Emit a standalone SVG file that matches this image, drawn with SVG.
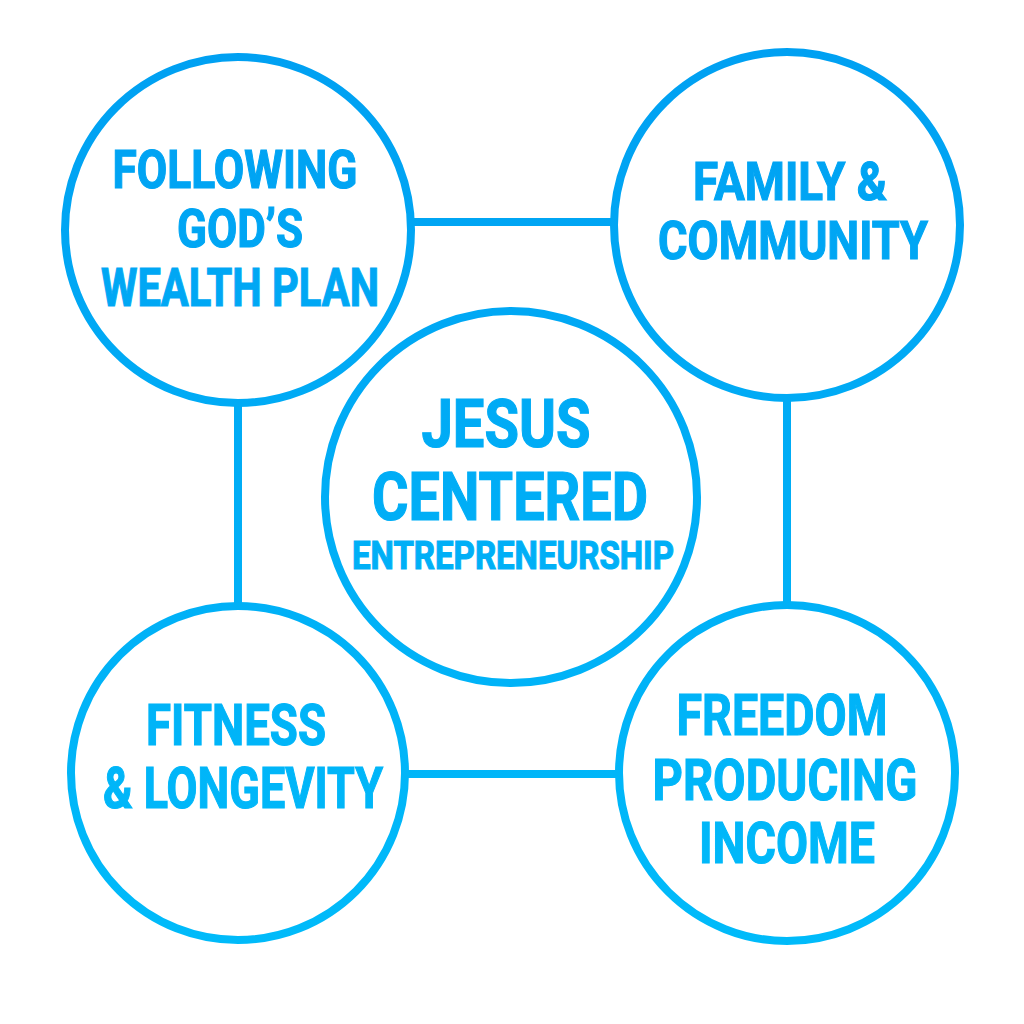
<svg xmlns="http://www.w3.org/2000/svg" width="1024" height="1024" viewBox="0 0 1024 1024">
<defs>
<linearGradient id="g" gradientUnits="userSpaceOnUse" x1="0" y1="40" x2="0" y2="960">
<stop offset="0" stop-color="#00a0f2"/>
<stop offset="1" stop-color="#00bbfa"/>
</linearGradient>
<style>
.c{fill:#fff;stroke:url(#g);stroke-width:8}
.l{stroke:url(#g);stroke-width:8;fill:none}
.t{font-family:Roboto,"DejaVu Sans Condensed","Liberation Sans",sans-serif;font-weight:bold;fill:url(#g);stroke:url(#g);stroke-width:1.2;text-anchor:middle}
</style>
</defs>
<rect width="1024" height="1024" fill="#fff"/>
<g id="connectors">
<line class="l" x1="412" y1="222" x2="612" y2="222"/>
<line class="l" x1="238" y1="403" x2="238" y2="606"/>
<line class="l" x1="787" y1="398" x2="787" y2="605"/>
<line class="l" x1="405" y1="774" x2="620" y2="774"/>
</g>
<g id="n-wealth">
<circle class="c" cx="238" cy="230" r="173"/>
<text class="t" font-size="53" x="235" y="188" textLength="245" lengthAdjust="spacingAndGlyphs">FOLLOWING</text>
<text class="t" font-size="53" x="240" y="247" textLength="126" lengthAdjust="spacingAndGlyphs">GOD’S</text>
<text class="t" font-size="53" x="240" y="306" textLength="278" lengthAdjust="spacingAndGlyphs">WEALTH PLAN</text>
</g>
<g id="n-family">
<circle class="c" cx="787" cy="225" r="173"/>
<text class="t" font-size="53" x="790" y="200" textLength="194" lengthAdjust="spacingAndGlyphs">FAMILY &amp;</text>
<text class="t" font-size="53" x="793" y="259" textLength="270" lengthAdjust="spacingAndGlyphs">COMMUNITY</text>
</g>
<g id="n-center">
<circle class="c" cx="511" cy="497" r="186"/>
<text class="t" font-size="66" x="506" y="447" textLength="169" lengthAdjust="spacingAndGlyphs">JESUS</text>
<text class="t" font-size="66" x="510" y="520" textLength="276" lengthAdjust="spacingAndGlyphs">CENTERED</text>
<text class="t" font-size="39" x="513" y="569" textLength="322" lengthAdjust="spacingAndGlyphs">ENTREPRENEURSHIP</text>
</g>
<g id="n-fitness">
<circle class="c" cx="238" cy="773" r="167"/>
<text class="t" font-size="57" x="236" y="745" textLength="180" lengthAdjust="spacingAndGlyphs">FITNESS</text>
<text class="t" font-size="57" x="243" y="808" textLength="280" lengthAdjust="spacingAndGlyphs">&amp; LONGEVITY</text>
</g>
<g id="n-freedom">
<circle class="c" cx="787" cy="773" r="168"/>
<text class="t" font-size="58" x="782" y="735" textLength="211" lengthAdjust="spacingAndGlyphs">FREEDOM</text>
<text class="t" font-size="58" x="785" y="800" textLength="265" lengthAdjust="spacingAndGlyphs">PRODUCING</text>
<text class="t" font-size="58" x="787" y="863" textLength="176" lengthAdjust="spacingAndGlyphs">INCOME</text>
</g>
</svg>
